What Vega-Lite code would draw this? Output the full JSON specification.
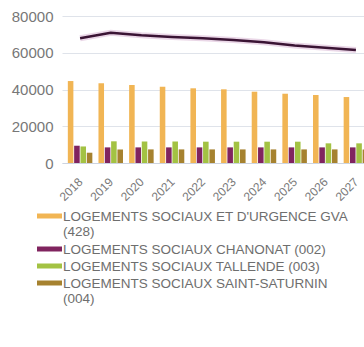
{
  "$schema": "https://vega.github.io/schema/vega-lite/v6.json",
  "autosize": "none",
  "width": 302,
  "height": 147,
  "padding": {"left": 62, "top": 16, "right": 0, "bottom": 184},
  "background": "white",
  "config": {
    "view": {"stroke": null},
    "font": "Liberation Sans"
  },
  "datasets": {
    "bars": [
      {"year": "2018", "series": "LOGEMENTS SOCIAUX ET D'URGENCE GVA (428)", "value": 44600},
      {"year": "2019", "series": "LOGEMENTS SOCIAUX ET D'URGENCE GVA (428)", "value": 43400},
      {"year": "2020", "series": "LOGEMENTS SOCIAUX ET D'URGENCE GVA (428)", "value": 42450},
      {"year": "2021", "series": "LOGEMENTS SOCIAUX ET D'URGENCE GVA (428)", "value": 41500},
      {"year": "2022", "series": "LOGEMENTS SOCIAUX ET D'URGENCE GVA (428)", "value": 40650},
      {"year": "2023", "series": "LOGEMENTS SOCIAUX ET D'URGENCE GVA (428)", "value": 40100},
      {"year": "2024", "series": "LOGEMENTS SOCIAUX ET D'URGENCE GVA (428)", "value": 38800},
      {"year": "2025", "series": "LOGEMENTS SOCIAUX ET D'URGENCE GVA (428)", "value": 37700},
      {"year": "2026", "series": "LOGEMENTS SOCIAUX ET D'URGENCE GVA (428)", "value": 37000},
      {"year": "2027", "series": "LOGEMENTS SOCIAUX ET D'URGENCE GVA (428)", "value": 35900},
      {"year": "2018", "series": "LOGEMENTS SOCIAUX CHANONAT (002)", "value": 9400},
      {"year": "2019", "series": "LOGEMENTS SOCIAUX CHANONAT (002)", "value": 8500},
      {"year": "2020", "series": "LOGEMENTS SOCIAUX CHANONAT (002)", "value": 8500},
      {"year": "2021", "series": "LOGEMENTS SOCIAUX CHANONAT (002)", "value": 8500},
      {"year": "2022", "series": "LOGEMENTS SOCIAUX CHANONAT (002)", "value": 8500},
      {"year": "2023", "series": "LOGEMENTS SOCIAUX CHANONAT (002)", "value": 8500},
      {"year": "2024", "series": "LOGEMENTS SOCIAUX CHANONAT (002)", "value": 8500},
      {"year": "2025", "series": "LOGEMENTS SOCIAUX CHANONAT (002)", "value": 8500},
      {"year": "2026", "series": "LOGEMENTS SOCIAUX CHANONAT (002)", "value": 8500},
      {"year": "2027", "series": "LOGEMENTS SOCIAUX CHANONAT (002)", "value": 8500},
      {"year": "2018", "series": "LOGEMENTS SOCIAUX TALLENDE (003)", "value": 9000},
      {"year": "2019", "series": "LOGEMENTS SOCIAUX TALLENDE (003)", "value": 11800},
      {"year": "2020", "series": "LOGEMENTS SOCIAUX TALLENDE (003)", "value": 11700},
      {"year": "2021", "series": "LOGEMENTS SOCIAUX TALLENDE (003)", "value": 11700},
      {"year": "2022", "series": "LOGEMENTS SOCIAUX TALLENDE (003)", "value": 11600},
      {"year": "2023", "series": "LOGEMENTS SOCIAUX TALLENDE (003)", "value": 11600},
      {"year": "2024", "series": "LOGEMENTS SOCIAUX TALLENDE (003)", "value": 11600},
      {"year": "2025", "series": "LOGEMENTS SOCIAUX TALLENDE (003)", "value": 11600},
      {"year": "2026", "series": "LOGEMENTS SOCIAUX TALLENDE (003)", "value": 10700},
      {"year": "2027", "series": "LOGEMENTS SOCIAUX TALLENDE (003)", "value": 10700},
      {"year": "2018", "series": "LOGEMENTS SOCIAUX SAINT-SATURNIN (004)", "value": 5600},
      {"year": "2019", "series": "LOGEMENTS SOCIAUX SAINT-SATURNIN (004)", "value": 7400},
      {"year": "2020", "series": "LOGEMENTS SOCIAUX SAINT-SATURNIN (004)", "value": 7400},
      {"year": "2021", "series": "LOGEMENTS SOCIAUX SAINT-SATURNIN (004)", "value": 7400},
      {"year": "2022", "series": "LOGEMENTS SOCIAUX SAINT-SATURNIN (004)", "value": 7400},
      {"year": "2023", "series": "LOGEMENTS SOCIAUX SAINT-SATURNIN (004)", "value": 7400},
      {"year": "2024", "series": "LOGEMENTS SOCIAUX SAINT-SATURNIN (004)", "value": 7400},
      {"year": "2025", "series": "LOGEMENTS SOCIAUX SAINT-SATURNIN (004)", "value": 7400},
      {"year": "2026", "series": "LOGEMENTS SOCIAUX SAINT-SATURNIN (004)", "value": 7400},
      {"year": "2027", "series": "LOGEMENTS SOCIAUX SAINT-SATURNIN (004)", "value": 7400}
    ],
    "total": [
      {"year": "2018", "value": 67900},
      {"year": "2019", "value": 70900},
      {"year": "2020", "value": 69500},
      {"year": "2021", "value": 68600},
      {"year": "2022", "value": 67900},
      {"year": "2023", "value": 67000},
      {"year": "2024", "value": 65700},
      {"year": "2025", "value": 63900},
      {"year": "2026", "value": 62700},
      {"year": "2027", "value": 61500}
    ]
  },
  "encoding": {
    "x": {
      "field": "year", "type": "ordinal",
      "scale": {"paddingInner": 0.2, "paddingOuter": 0.19, "range": [0, 312]},
      "axis": {"title": null, "labelAngle": -45, "labelAlign": "right", "labelBaseline": "top", "labelFontSize": 12, "labelColor": "#7a7a7a", "ticks": false, "labelPadding": 13, "labelOffset": -3, "domainColor": "#cdd4e0", "grid": false}
    },
    "y": {
      "field": "value", "type": "quantitative",
      "scale": {"domain": [0, 80000]},
      "axis": {"title": null, "values": [0, 20000, 40000, 60000, 80000], "format": "d", "labelOverlap": false, "labelFontSize": 15, "labelColor": "#777777", "ticks": false, "domain": false, "labelPadding": 9, "gridColor": "#dfe3ea"}
    }
  },
  "layer": [
    {
      "data": {"name": "bars"},
      "mark": {"type": "bar"},
      "encoding": {
        "xOffset": {
          "field": "series", "type": "nominal",
          "sort": ["LOGEMENTS SOCIAUX ET D'URGENCE GVA (428)", "LOGEMENTS SOCIAUX CHANONAT (002)", "LOGEMENTS SOCIAUX TALLENDE (003)", "LOGEMENTS SOCIAUX SAINT-SATURNIN (004)"],
          "scale": {"paddingInner": 0.12}
        },
        "color": {
          "field": "series", "type": "nominal",
          "scale": {
            "domain": ["LOGEMENTS SOCIAUX ET D'URGENCE GVA (428)", "LOGEMENTS SOCIAUX CHANONAT (002)", "LOGEMENTS SOCIAUX TALLENDE (003)", "LOGEMENTS SOCIAUX SAINT-SATURNIN (004)"],
            "range": ["#f1b554", "#80245f", "#a3c243", "#a6822f"]
          },
          "legend": {
            "title": null, "orient": "none", "legendX": -25, "legendY": 192,
            "symbolType": "M-1,-0.56H1V-0.16H-1Z", "symbolSize": 625, "symbolStrokeWidth": 0,
            "labelFontSize": 13.5, "labelColor": "#6e6e6e", "labelOffset": 1, "labelLimit": 400, "rowPadding": 2,
            "labelBaseline": "alphabetic",
            "labelExpr": "length(datum.label) > 35 ? [slice(datum.label, 0, lastindexof(datum.label, ' ')), slice(datum.label, lastindexof(datum.label, ' ') + 1)] : datum.label"
          }
        }
      }
    },
    {
      "data": {"name": "total"},
      "mark": {"type": "line", "strokeWidth": 6, "color": "#d8b6d4", "opacity": 0.55},
      "encoding": {}
    },
    {
      "data": {"name": "total"},
      "mark": {"type": "line", "strokeWidth": 2.5, "color": "#3a1434"},
      "encoding": {}
    }
  ]
}
